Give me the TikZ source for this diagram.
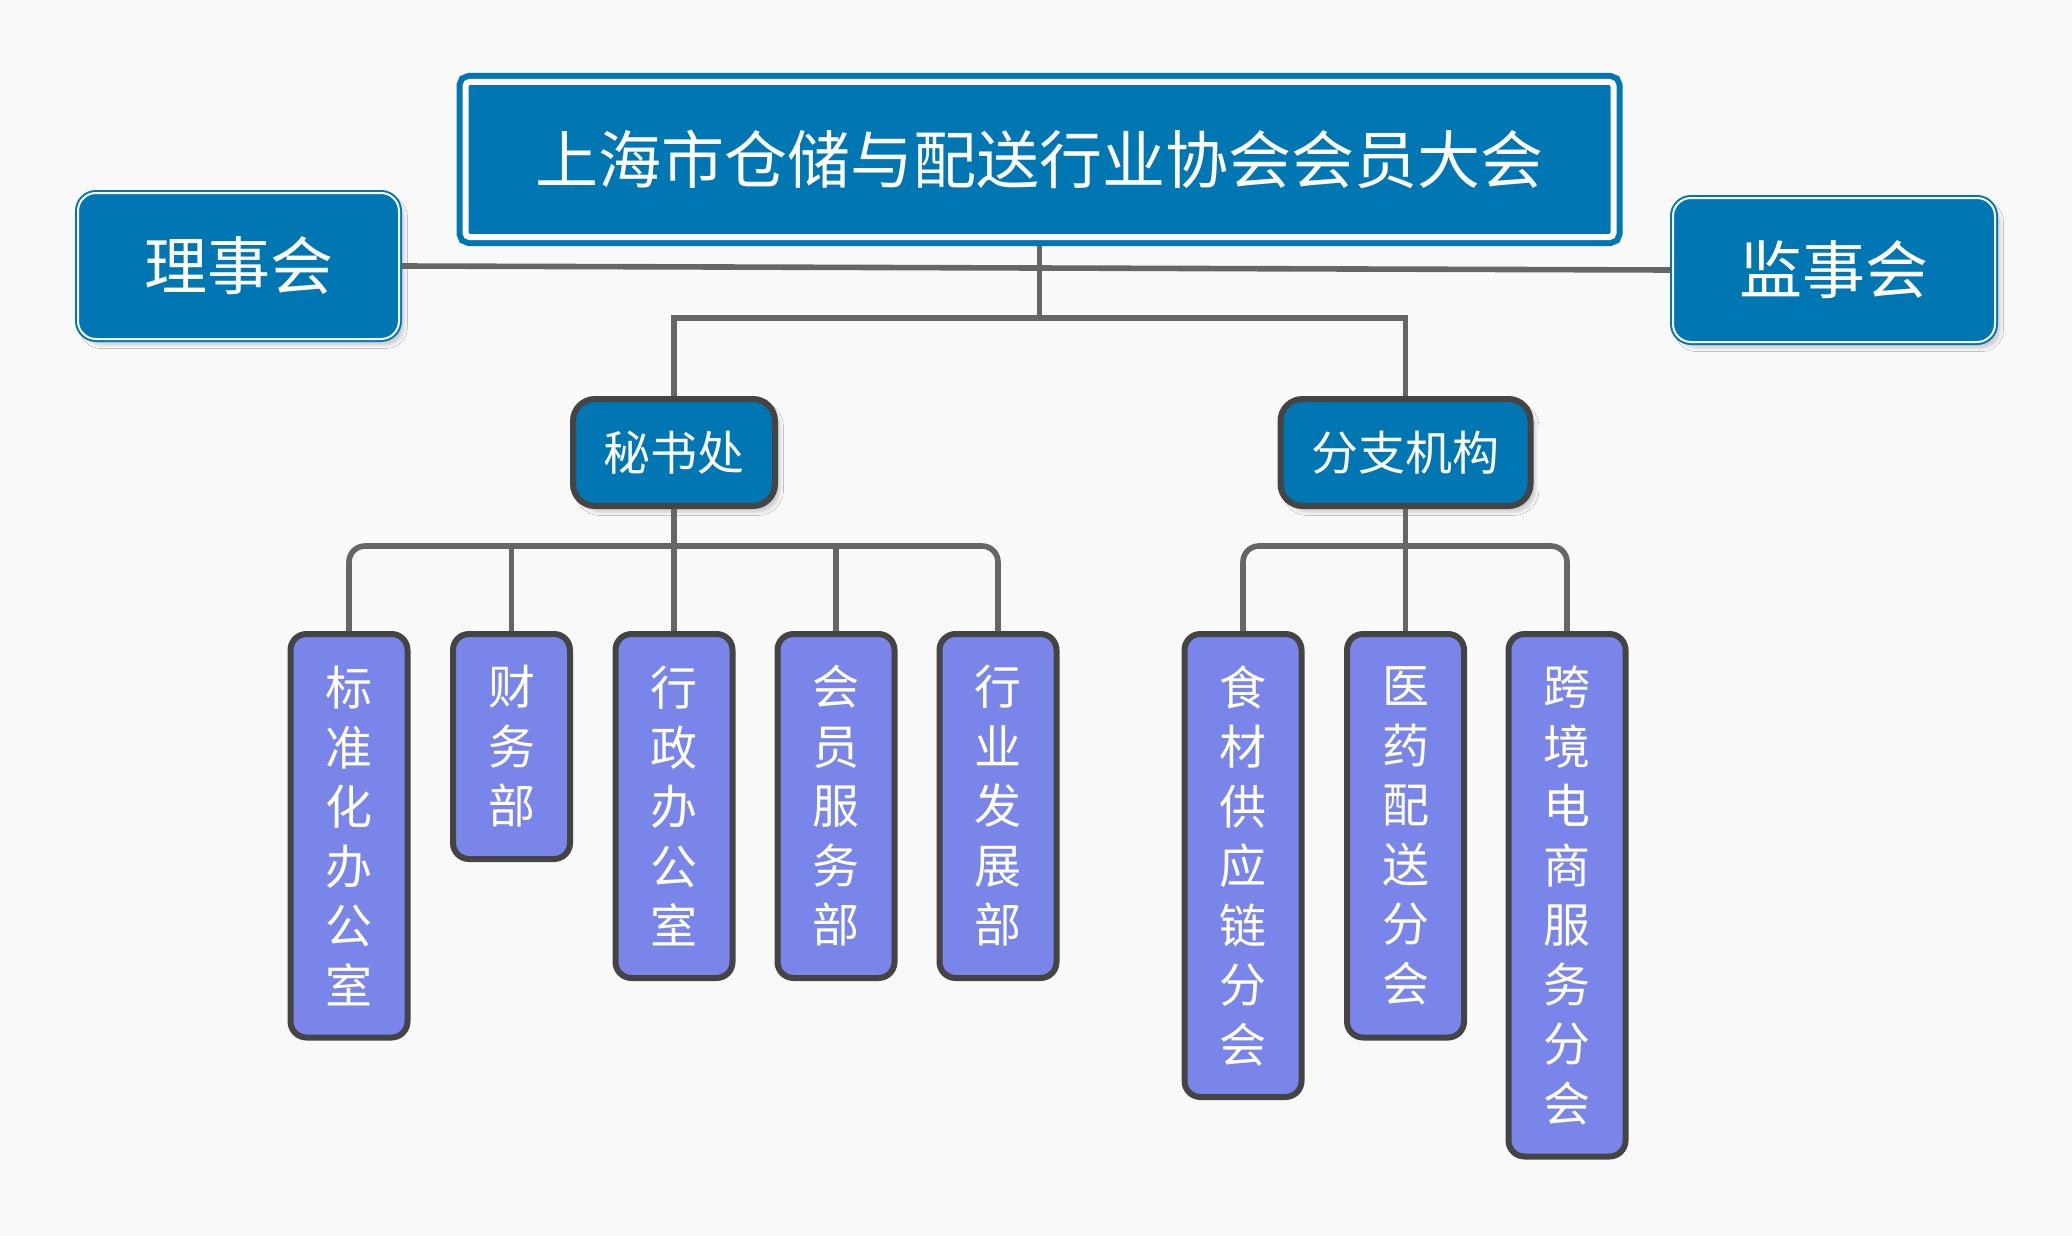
\documentclass[tikz,border=0pt]{standalone}
\usepackage{fontspec}
\newfontfamily\cjk{Noto Sans CJK SC}
\usetikzlibrary{shadows.blur}
\definecolor{assocblue}{RGB}{0,118,178}
\definecolor{leafblue}{RGB}{122,133,234}
\definecolor{boxedge}{RGB}{68,68,68}
\definecolor{linkgray}{RGB}{102,102,102}
\definecolor{paper}{RGB}{249,249,249}

\begin{document}
\begin{tikzpicture}[x=0.5pt,y=-0.5pt,
  link/.style={draw=linkgray,line width=2.8pt},
  headbox/.style={draw=assocblue,fill=assocblue,double=white,text=white,
    font=\cjk\fontsize{31.5pt}{38pt}\selectfont,inner sep=0pt},
  softshadow/.style={blur shadow={shadow xshift=2.5pt,shadow yshift=-3pt,shadow opacity=18}},
  midbox/.style={draw=boxedge,line width=3pt,fill=assocblue,rounded corners=11pt,text=white,
    font=\cjk\fontsize{23.5pt}{28pt}\selectfont,minimum height=53.5pt,inner sep=0pt,softshadow},
  leaf/.style={draw=boxedge,line width=3pt,fill=leafblue,rounded corners=8pt,text=white,
    align=center,anchor=north,font=\cjk\fontsize{23.5pt}{29.75pt}\selectfont,
    minimum width=58.5pt,inner sep=0pt,minimum height={29.75pt*#1+23.25pt}}
]
\useasboundingbox (0,0) rectangle (2072,1236);
\fill[paper] (0,0) rectangle (2072,1236);

% General assembly
\node[headbox,line width=3pt,double distance=3pt,rounded corners=2pt,
  minimum width=574pt,minimum height=77.5pt,outer sep=4.5pt] (dahui) at (1039.5,159.5)
  {上海市仓储与配送行业协会会员大会};

% Council and board of supervisors
\node[headbox,line width=1pt,double distance=1pt,rounded corners=9pt,softshadow,
  minimum width=160.5pt,minimum height=73pt,outer sep=1.5pt] (lishi) at (238.5,266) {理事会};
\node[headbox,line width=1pt,double distance=1pt,rounded corners=9pt,softshadow,
  minimum width=161pt,minimum height=72pt,outer sep=1.5pt] (jianshi) at (1834,270) {监事会};

% Second level
\node[midbox,minimum width=101pt] (mishu) at (674,452.5) {秘书处};
\node[midbox,minimum width=125pt] (fenzhi) at (1405.5,452.5) {分支机构};

% Secretariat departments
\node[leaf=6] (biaozhun) at (349,631) {标\\准\\化\\办\\公\\室};
\node[leaf=3] (caiwu) at (511.5,631) {财\\务\\部};
\node[leaf=5] (xingzheng) at (674,631) {行\\政\\办\\公\\室};
\node[leaf=5] (huiyuan) at (836,631) {会\\员\\服\\务\\部};
\node[leaf=5] (fazhan) at (998,631) {行\\业\\发\\展\\部};

% Branches
\node[leaf=7] (shicai) at (1243,631) {食\\材\\供\\应\\链\\分\\会};
\node[leaf=6] (yiyao) at (1405.5,631) {医\\药\\配\\送\\分\\会};
\node[leaf=8] (kuajing) at (1567,631) {跨\\境\\电\\商\\服\\务\\分\\会};

% Connectors
\coordinate (topbus) at (1039.5,318);
\coordinate (mbus) at (674,546);
\coordinate (fbus) at (1405.5,546);

\draw[link] (lishi.east) -- (jianshi.west);
\draw[link] (dahui.south) -- (topbus);
\draw[link] (mishu.north) |- (topbus) -| (fenzhi.north);

\draw[link,rounded corners=8pt] (biaozhun.north) |- (mbus) -| (fazhan.north);
\draw[link] (mishu.south) -- (xingzheng.north);
\draw[link] (caiwu.north) -- (caiwu.north |- mbus);
\draw[link] (huiyuan.north) -- (huiyuan.north |- mbus);

\draw[link,rounded corners=8pt] (shicai.north) |- (fbus) -| (kuajing.north);
\draw[link] (fenzhi.south) -- (yiyao.north);

\end{tikzpicture}
\end{document}
